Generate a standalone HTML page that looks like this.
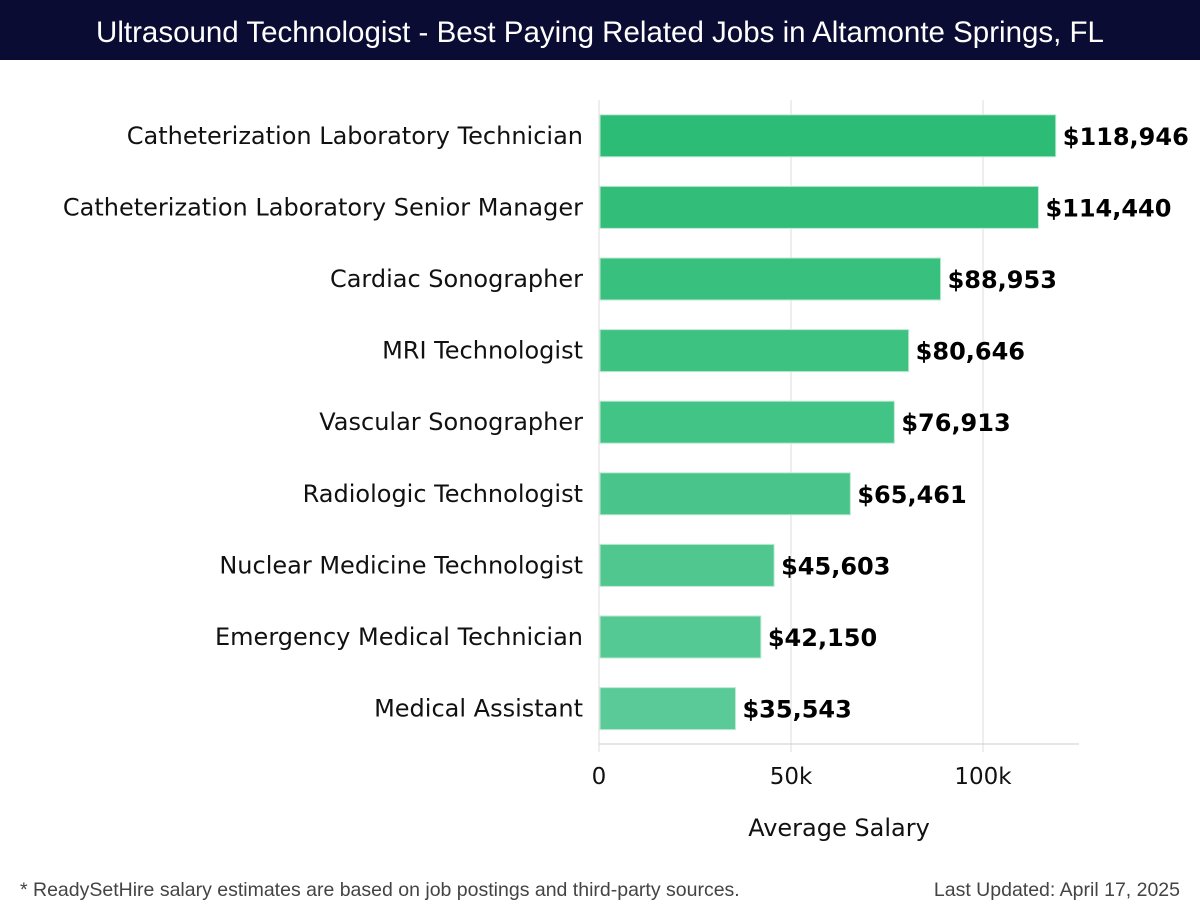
<!DOCTYPE html>
<html><head><meta charset="utf-8"><style>
body{margin:0;width:1200px;height:920px;background:#fff;overflow:hidden;font-family:"DejaVu Sans","Liberation Sans",sans-serif}
#title{position:absolute;left:0;top:0;width:1200px;height:60px;background:#0b0c33;color:#fff;font:29.5px "Liberation Sans",sans-serif;text-align:center;line-height:66px}
.foot{position:absolute;top:879px;font:19.5px "Liberation Sans",sans-serif;color:#444}
</style></head><body>
<div id="title">Ultrasound Technologist - Best Paying Related Jobs in Altamonte Springs, FL</div>
<svg id="chart" width="1200" height="920" style="position:absolute;left:0;top:0"></svg>
<div class="foot" style="left:20px">* ReadySetHire salary estimates are based on job postings and third-party sources.</div>
<div class="foot" style="right:20px">Last Updated: April 17, 2025</div>
<script>
const categories=["Catheterization Laboratory Technician","Catheterization Laboratory Senior Manager","Cardiac Sonographer","MRI Technologist","Vascular Sonographer","Radiologic Technologist","Nuclear Medicine Technologist","Emergency Medical Technician","Medical Assistant"];
const salaries=[118946,114440,88953,80646,76913,65461,45603,42150,35543];
const tickValues=[0,50000,100000];
const tickLabels=["0","50k","100k"];
const NS="http://www.w3.org/2000/svg";
const svg=document.getElementById('chart');
const x0=599,xMax=125000,pw=480,top0=100,band=71.6,bh=42;
const xs=v=>x0+v/xMax*pw;
const yc=i=>top0+band*(i+0.5);
function mk(t,a){const e=document.createElementNS(NS,t);for(const k in a)e.setAttribute(k,a[k]);svg.appendChild(e);return e;}
tickValues.forEach((v,i)=>{
 const g=mk('line',{x1:xs(v),x2:xs(v),y1:100,y2:752,stroke:'#ddd','stroke-width':1});
 
 
 const t=mk('text',{x:xs(v),y:784,'text-anchor':'middle','font-size':23,fill:'#111'});
 t.textContent=tickLabels[i];
 
 
});
const ax=mk('line',{x1:x0,x2:x0+pw,y1:744,y2:744,stroke:'#ccc'});


const at=mk('text',{x:839,y:836,'text-anchor':'middle','font-size':24,fill:'#111'});
at.textContent='Average Salary';


const c1=[44,188,117],c2=[90,203,152];
categories.forEach((c,i)=>{
 const f=i/(categories.length-1);
 const col=`rgb(${c1.map((a,k)=>Math.round(a+(c2[k]-a)*f)).join(',')})`;
 const r=mk('rect',{x:x0+1,y:yc(i)-bh/2,width:xs(salaries[i])-x0-1,height:bh,fill:col,stroke:'#bfe9d3','stroke-width':1});
 
 
 const l=mk('text',{x:583,y:yc(i)+8,'text-anchor':'end','font-size':24,fill:'#111'});
 l.textContent=c;
 
 
 const v=mk('text',{x:xs(salaries[i])+7,y:yc(i)+9,'font-size':24,'font-weight':'bold',fill:'#000'});
 v.textContent='$'+salaries[i].toLocaleString('en-US');
 
 
});
</script>
</body></html>
